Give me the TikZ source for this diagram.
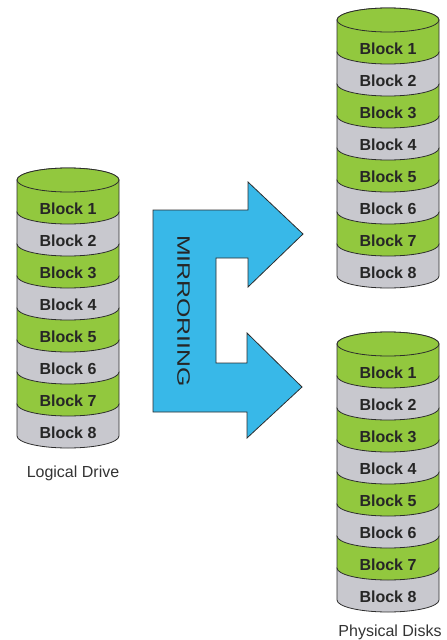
\documentclass[tikz,border=0pt]{standalone}
\usepackage{fontspec}
\setmainfont{Liberation Sans}
\definecolor{blockgreen}{RGB}{146,200,62}
\definecolor{blockgray}{RGB}{200,200,206}
\definecolor{mirrorblue}{RGB}{56,184,232}
\definecolor{edgegray}{RGB}{45,45,45}
\tikzset{
  band/.style={draw=edgegray, line width=0.8pt},
  blocklabel/.style={font=\fontsize{16}{18}\selectfont\bfseries, text=black!85},
  drivelabel/.style={font=\fontsize{16}{18}\selectfont, text=black!80},
}
\begin{document}
\begin{tikzpicture}[x=1pt, y=1pt]
  \useasboundingbox (0,0) rectangle (447,-640);
  % disk stacks, drawn from the bottom band up
  \foreach \cx/\cy/\dn in {68/-180/L, 388/-20/A, 388/-344/B} {
    \foreach \k/\bc in {8/blockgray, 7/blockgreen, 6/blockgray, 5/blockgreen,
                        4/blockgray, 3/blockgreen, 2/blockgray, 1/blockgreen} {
      \pgfmathsetmacro{\yt}{\cy-32*(\k-1)}
      \pgfmathsetmacro{\yb}{\cy-32*\k}
      \filldraw[band, fill=\bc] (\cx-51,\yt) -- (\cx-51,\yb)
        arc[start angle=180, end angle=360, x radius=51, y radius=12]
        -- (\cx+51,\yt)
        arc[start angle=0, end angle=180, x radius=51, y radius=12] -- cycle;
      \node[blocklabel] (\dn\k) at (\cx,\yt-29) {Block \k};
    }
    \filldraw[band, fill=blockgreen] (\cx,\cy) ellipse[x radius=51, y radius=12];
  }
  % mirroring arrow
  \filldraw[band, fill=mirrorblue] (153,-210) -- (248,-210) -- (248,-182)
    -- (303,-234) -- (248,-287) -- (248,-258) -- (216,-258) -- (216,-363)
    -- (247,-363) -- (247,-333) -- (302,-387) -- (247,-438) -- (247,-412)
    -- (153,-412) -- cycle;
  \node[rotate=-90, font=\fontsize{18}{20}\selectfont, text=black!85] (mirror)
    at (183.5,-311) {\scalebox{1.38}[1]{MIRRORIING}};
  \node[drivelabel] (logical) at (73,-473) {Logical Drive};
  \node[drivelabel] (physical) at (390,-632) {Physical Disks};
\end{tikzpicture}
\end{document}
